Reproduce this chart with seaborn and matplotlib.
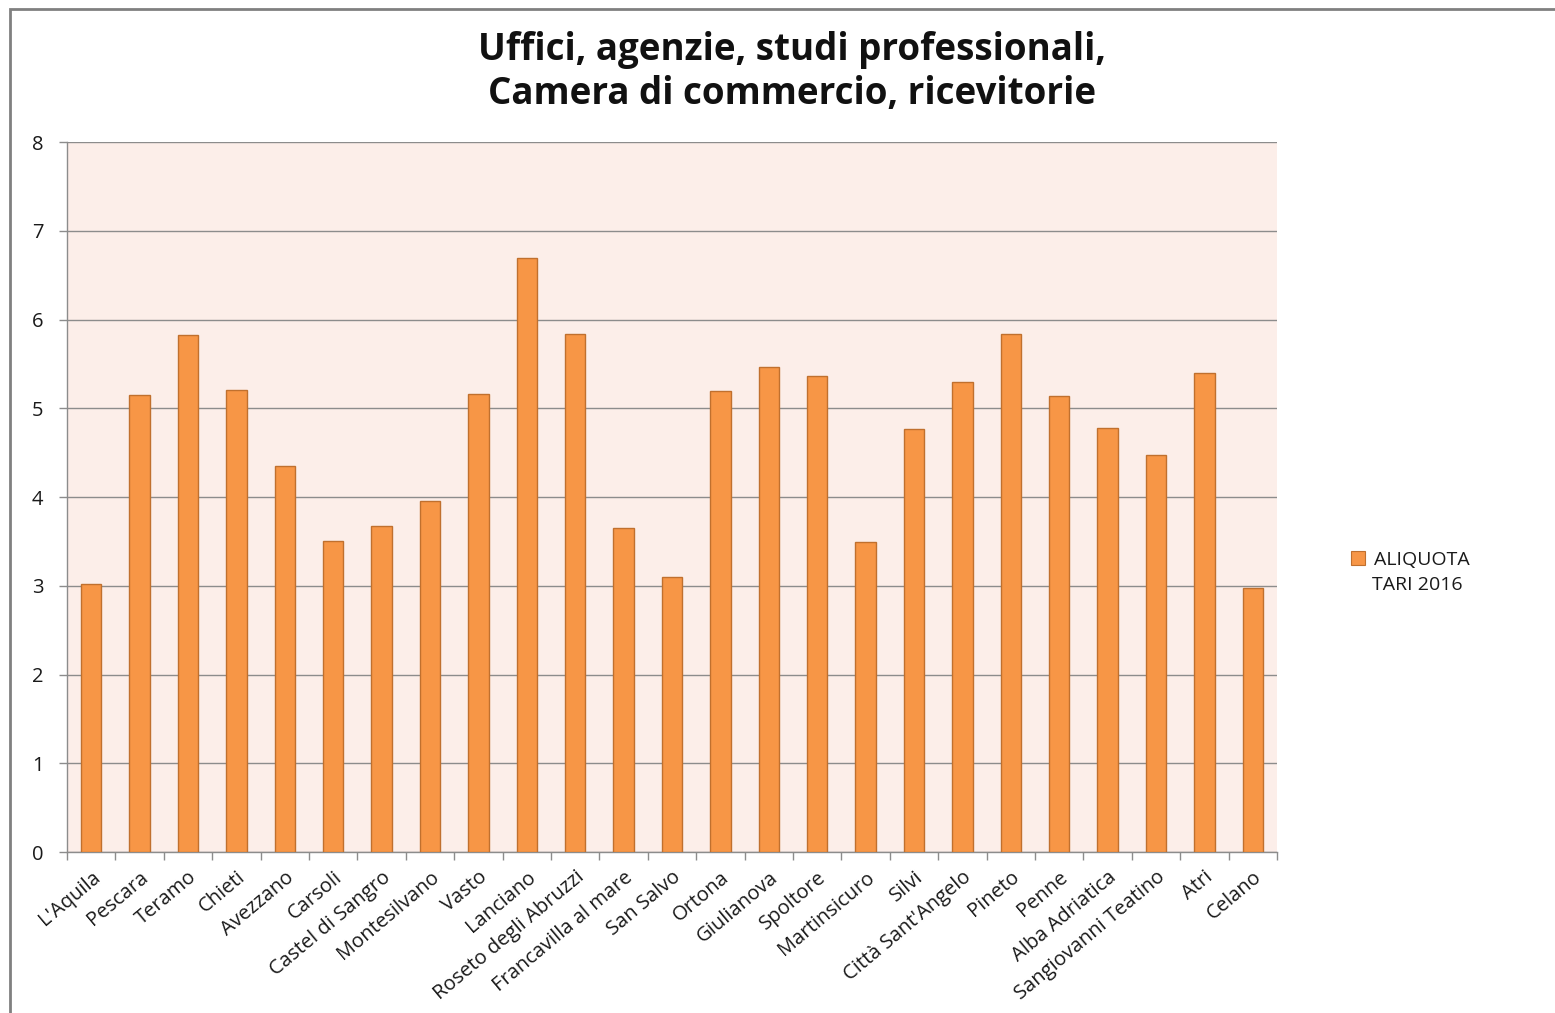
import matplotlib
matplotlib.use("Agg")
import matplotlib.pyplot as plt
import seaborn as sns
import pandas as pd
from matplotlib.patches import Patch, Rectangle
from matplotlib.ticker import FixedLocator

comuni = [
    "L'Aquila", "Pescara", "Teramo", "Chieti", "Avezzano", "Carsoli",
    "Castel di Sangro", "Montesilvano", "Vasto", "Lanciano",
    "Roseto degli Abruzzi", "Francavilla al mare", "San Salvo", "Ortona",
    "Giulianova", "Spoltore", "Martinsicuro", "Silvi", "Città Sant'Angelo",
    "Pineto", "Penne", "Alba Adriatica", "Sangiovanni Teatino", "Atri", "Celano",
]
aliquota = [
    3.02, 5.15, 5.82, 5.21, 4.35, 3.50, 3.67, 3.95, 5.16, 6.69,
    5.84, 3.65, 3.10, 5.20, 5.47, 5.36, 3.49, 4.77, 5.30, 5.84,
    5.14, 4.78, 4.47, 5.40, 2.97,
]
y_ticks = [0, 1, 2, 3, 4, 5, 6, 7, 8]
serie = ["ALIQUOTA", "TARI 2016"]
titolo = "Uffici, agenzie, studi professionali,\nCamera di commercio, ricevitorie"

BAR = "#F79646"
EDGE = "#C0702E"
BG = "#FCEEE9"
GRID = "#8C8C8C"
TXT = "#1a1a1a"

df = pd.DataFrame({"comune": comuni, "aliquota": aliquota})

sns.set_style("white")
plt.rcParams["font.family"] = ["Open Sans", "DejaVu Sans"]

fig = plt.figure(figsize=(15.55, 10.13), dpi=100)
ax = fig.add_axes([67 / 1555, 1 - 852 / 1013, 1210 / 1555, 710 / 1013])
ax.set_facecolor(BG)

sns.barplot(data=df, x="comune", y="aliquota", color=BAR, width=0.42,
            edgecolor=EDGE, linewidth=1.0, saturation=1, ax=ax, zorder=3)

ax.set_ylim(0, 8)
ax.set_xlim(-0.5, len(comuni) - 0.5)
ax.set_yticks(y_ticks)
ax.yaxis.grid(True, color=GRID, linewidth=1.0, zorder=0)
ax.set_axisbelow(True)

for s in ["top", "right"]:
    ax.spines[s].set_visible(False)
for s in ["left", "bottom"]:
    ax.spines[s].set_color(GRID)
    ax.spines[s].set_linewidth(1.0)

# tick marks between categories, like the spreadsheet original
ax.xaxis.set_minor_locator(FixedLocator([i - 0.5 for i in range(len(comuni) + 1)]))
ax.tick_params(axis="x", which="major", length=0, pad=11, labelsize=14.5, labelcolor=TXT)
ax.tick_params(axis="x", which="minor", length=6, color=GRID, width=1, bottom=True)
ax.tick_params(axis="y", length=6, color=GRID, width=1, left=True, pad=11,
               labelsize=14.5, labelcolor=TXT)
plt.setp(ax.get_xticklabels(), rotation=40, ha="right", rotation_mode="anchor")

ax.set_xlabel("")
ax.set_ylabel("")

fig.text(792 / 1555, 1 - 72 / 1013, titolo, ha="center", va="center",
         fontsize=26.5, fontweight="bold", linespacing=1.2, color="#111111")

# legend: square sits beside the first line, second line below
handle = Patch(facecolor=BAR, edgecolor=EDGE, linewidth=0.8)
fig.legend([handle], [serie[0]], loc="center left",
           bbox_to_anchor=(1343 / 1555, 1 - 560 / 1013), frameon=False,
           fontsize=14, handlelength=0.75, handleheight=0.75, handletextpad=0.45,
           labelcolor=TXT, borderaxespad=0)
fig.text(1372 / 1555, 1 - 585 / 1013, serie[1], ha="left", va="center",
         fontsize=14, color=TXT)

# outer chart border
fig.patches.append(Rectangle((10 / 1555, -0.05), 1.2, 1 - 8.5 / 1013 + 0.05,
                             transform=fig.transFigure, fill=False,
                             edgecolor="#808080", linewidth=2))

fig.savefig("out.png", dpi=100, facecolor="white")
